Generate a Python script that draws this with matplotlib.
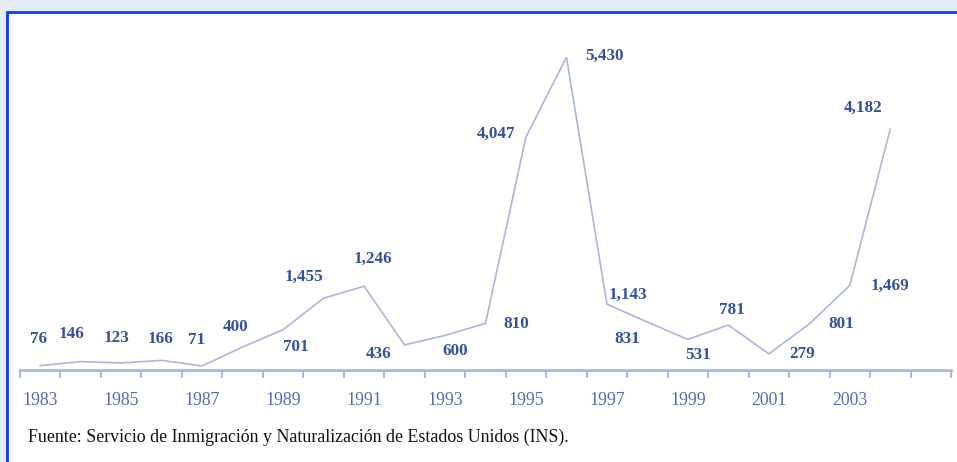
import matplotlib
matplotlib.use("Agg")
import matplotlib.pyplot as plt
from matplotlib.patches import Rectangle
from matplotlib.ticker import FixedLocator, NullFormatter

# ---- data ----
years = list(range(1983, 2005))
values = [76, 146, 123, 166, 71, 400, 701, 1246, 1455, 436, 600, 810,
          4047, 5430, 1143, 831, 531, 781, 279, 801, 1469, 4182]
label_texts = ["76", "146", "123", "166", "71", "400", "701", "1,455", "1,246",
               "436", "600", "810", "4,047", "5,430", "1,143", "831", "531",
               "781", "279", "801", "1,469", "4,182"]
tick_years = ["1983", "1985", "1987", "1989", "1991", "1993", "1995",
              "1997", "1999", "2001", "2003"]
source = "Fuente: Servicio de Inmigración y Naturalización de Estados Unidos (INS)."

# label offsets in pixels (dx, dy), y upwards
label_offsets = [(-2, 27), (-9, 28), (-5, 25), (-1, 21), (-6, 26), (-7, 20),
                 (13, -17), (-20, 21), (9, 27), (-26, -9), (10, -16), (31, -1),
                 (-30, 3), (38, 1), (21, 9), (-20, -17), (10, -16), (4, 15),
                 (33, 0), (32, 0), (40, 0), (-27, 21)]

W, H = 957, 462
fig = plt.figure(figsize=(W / 100, H / 100), dpi=100)
fig.patch.set_facecolor("#e4ebfb")

# white panel with blue frame
frame = Rectangle((6.5 / W, -0.1), 1.2, 1 - 12 / H + 0.1,
                  transform=fig.transFigure, facecolor="white",
                  edgecolor="#0a3cff", linewidth=2.0, zorder=-5)
fig.patches.append(frame)

ax_top, ax_bot, ax_left, ax_right = 40, 370, 20, 951
ax = fig.add_axes([ax_left / W, 1 - ax_bot / H, (ax_right - ax_left) / W,
                   (ax_bot - ax_top) / H])
ax.set_facecolor("none")
ax.set_zorder(2)

x = list(range(len(values)))
ax.plot(x, values, color="#a9b4e2", linewidth=1.2, solid_joinstyle="miter")

ncat = 23
ax.set_xlim(-0.5, ncat - 0.5)
ax.set_ylim(0, (ax_bot - ax_top) / 0.0576)

for s in ["top", "right", "left"]:
    ax.spines[s].set_visible(False)
ax.spines["bottom"].set_color("#aab6e4")
ax.spines["bottom"].set_linewidth(2.0)
ax.set_yticks([])

ax.xaxis.set_major_locator(FixedLocator([i - 0.5 for i in range(ncat + 1)]))
ax.xaxis.set_major_formatter(NullFormatter())
ax.tick_params(axis="x", which="major", length=6, width=1.5, color="#aab6e4",
               direction="out")
ax.set_xticks([years.index(int(t)) for t in tick_years], minor=True)
ax.set_xticklabels(tick_years, minor=True)
ax.tick_params(axis="x", which="minor", length=0, pad=16, labelsize=12.8,
               labelcolor="#5669b3")
for lab in ax.get_xticklabels(minor=True):
    lab.set_family("Liberation Serif")

for xi, v, t, (dx, dy) in zip(x, values, label_texts, label_offsets):
    ax.annotate(t, (xi, v), xytext=(dx, dy), textcoords="offset pixels",
                ha="center", va="center", fontsize=12.3, fontweight="bold",
                family="Liberation Serif", color="#34509f", annotation_clip=False)

fig.text(28 / W, 1 - 437 / H, source, ha="left", va="center",
         fontsize=12.9, family="Liberation Serif", color="#111111")

fig.savefig("out.png", dpi=100, facecolor=fig.get_facecolor())
